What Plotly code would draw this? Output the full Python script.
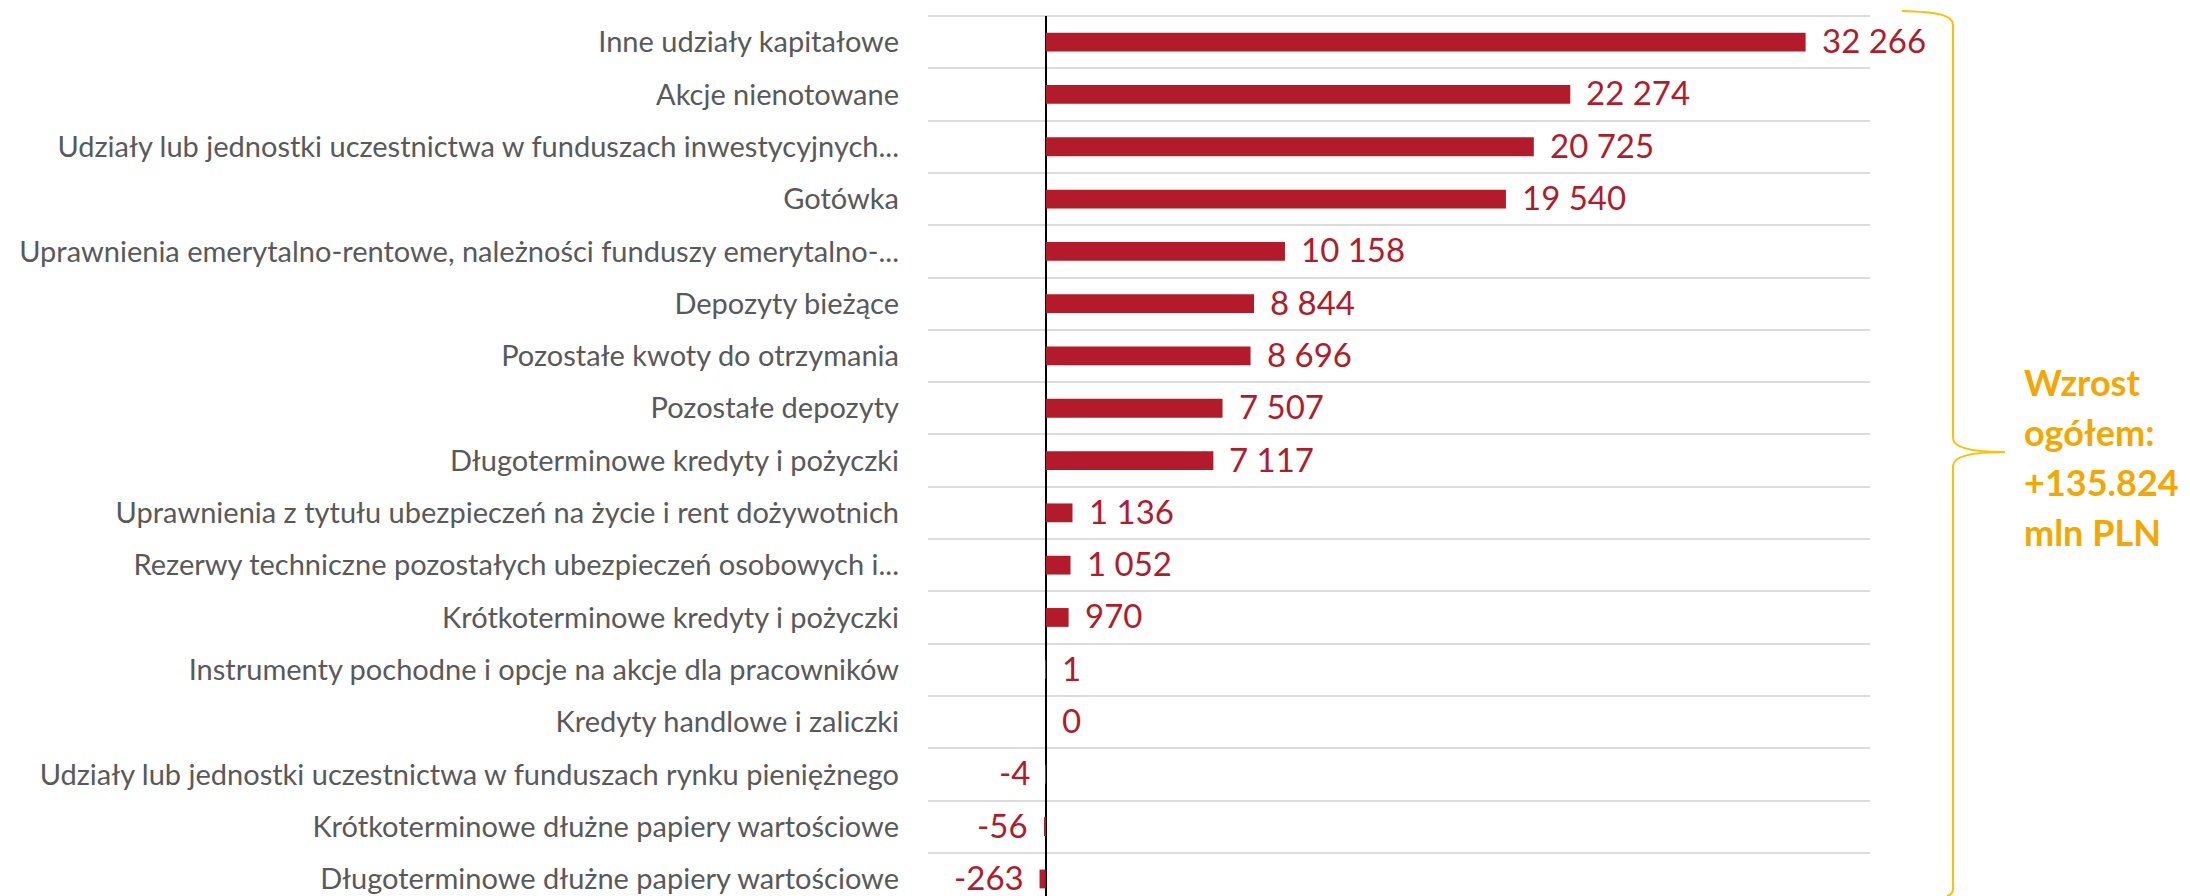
import plotly.graph_objects as go

categories = [
    "Inne udziały kapitałowe",
    "Akcje nienotowane",
    "Udziały lub jednostki uczestnictwa w funduszach inwestycyjnych...",
    "Gotówka",
    "Uprawnienia emerytalno-rentowe, należności funduszy emerytalno-...",
    "Depozyty bieżące",
    "Pozostałe kwoty do otrzymania",
    "Pozostałe depozyty",
    "Długoterminowe kredyty i pożyczki",
    "Uprawnienia z tytułu ubezpieczeń na życie i rent dożywotnich",
    "Rezerwy techniczne pozostałych ubezpieczeń osobowych i...",
    "Krótkoterminowe kredyty i pożyczki",
    "Instrumenty pochodne i opcje na akcje dla pracowników",
    "Kredyty handlowe i zaliczki",
    "Udziały lub jednostki uczestnictwa w funduszach rynku pieniężnego",
    "Krótkoterminowe dłużne papiery wartościowe",
    "Długoterminowe dłużne papiery wartościowe",
]
values = [32266, 22274, 20725, 19540, 10158, 8844, 8696, 7507, 7117,
          1136, 1052, 970, 1, 0, -4, -56, -263]
total_lines = ["Wzrost", "ogółem:", "+135.824", "mln PLN"]
x_min, x_max = -5000, 35000

W, H = 2190, 896
L, R, T, B = 928, 1870, 16, 896
BAR = "#B31B2A"
ORANGE = "#F5A700"
BRACE = "#FFC000"

def px(x):
    return (x - L) / (R - L)

def py(y):
    return (B - y) / (B - T)

row_h = 52.3
y_bottom = (B - T) / row_h - 0.5

fig = go.Figure()
fig.add_trace(go.Bar(
    x=values, y=categories, orientation="h",
    marker=dict(color=BAR, line=dict(width=0)),
    width=0.36, hoverinfo="x+y",
))

def fmt(v):
    return f"{v:,}".replace(",", "\u00a0")

for c, v in zip(categories, values):
    pos = v >= 0
    fig.add_annotation(x=v, y=c, text=fmt(v), showarrow=False,
                       xanchor="left" if pos else "right", yanchor="middle",
                       xshift=15 if pos else -15, yshift=2, borderpad=0,
                       font=dict(family="Lato", size=33, color=BAR))

for i, line in enumerate(total_lines):
    fig.add_annotation(xref="paper", yref="paper", x=px(2022), y=py(382 + 50 * i),
                       text="<b>" + line + "</b>", showarrow=False,
                       xanchor="left", yanchor="middle", align="left",
                       font=dict(family="Lato", size=36, color=ORANGE))

# top grid line (boundary above first category)
fig.add_shape(type="line", xref="paper", yref="paper", x0=0, x1=1, y0=1, y1=1,
              line=dict(color="#DCDCDC", width=2), layer="below")

pts = lambda a, b: f"{px(a)},{py(b)}"
path = (f"M {pts(1902, 11)} C {pts(1938, 12)} {pts(1953, 15)} {pts(1953, 25)} "
        f"L {pts(1953, 438)} C {pts(1953, 448)} {pts(1972, 452)} {pts(2005, 452)} "
        f"C {pts(1972, 452)} {pts(1953, 456)} {pts(1953, 466)} "
        f"L {pts(1953, 888)} C {pts(1953, 893)} {pts(1951, 895)} {pts(1947, 896)}")
fig.add_shape(type="path", xref="paper", yref="paper", path=path,
              line=dict(color=BRACE, width=2))

fig.update_layout(
    width=W, height=H,
    margin=dict(l=L, r=W - R, t=T, b=H - B, pad=0),
    paper_bgcolor="white", plot_bgcolor="white",
    showlegend=False,
    xaxis=dict(range=[x_min, x_max], showticklabels=False, showgrid=False,
               zeroline=True, zerolinecolor="black", zerolinewidth=2,
               ticks="", fixedrange=True),
    yaxis=dict(type="category", categoryorder="array", categoryarray=categories,
               range=[y_bottom, -0.5], tickson="boundaries", showgrid=True,
               gridcolor="#DCDCDC", gridwidth=2, ticks="", zeroline=False,
               ticklabelstandoff=28,
               tickfont=dict(family="Lato", size=29, color="#595959"),
               fixedrange=True),
)

fig.write_html("out.html", config={"displayModeBar": False},
               post_script="document.body.style.margin='0';document.body.style.overflow='hidden';")
